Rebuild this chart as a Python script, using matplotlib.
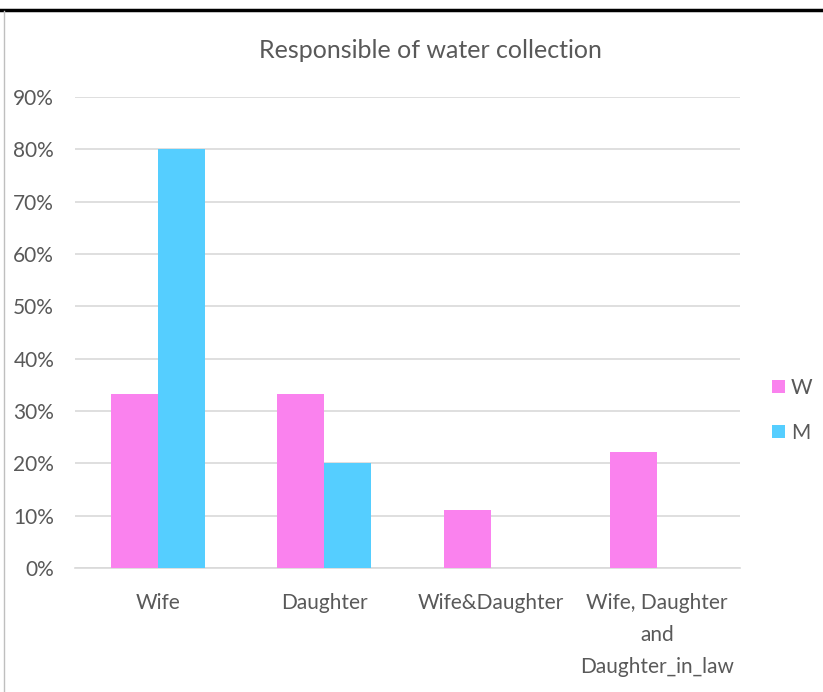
import matplotlib.pyplot as plt
import matplotlib.lines as mlines
import numpy as np

# Data
categories = ['Wife', 'Daughter', 'Wife&Daughter', 'Wife, Daughter\nand\nDaughter_in_law']
w_values = [0.333, 0.333, 0.111, 0.222]
m_values = [0.80, 0.20, 0.0, 0.0]
y_ticks = [0.0, 0.1, 0.2, 0.3, 0.4, 0.5, 0.6, 0.7, 0.8, 0.9]

pink = '#FA82EE'
blue = '#55CEFF'
text_gray = '#595959'

plt.rcParams['font.family'] = ['Lato', 'DejaVu Sans']

fig = plt.figure(figsize=(8.23, 6.92), dpi=100)
ax = fig.add_axes([75 / 823, 1 - 568 / 692, 665 / 823, (568 - 97) / 692])

x = np.arange(len(categories))
width = 0.283
ax.bar(x - width / 2, w_values, width, color=pink, label='W', zorder=3)
ax.bar(x + width / 2, m_values, width, color=blue, label='M', zorder=3)

ax.set_xlim(-0.5, len(categories) - 0.5)
ax.set_ylim(0, 0.9)
ax.set_yticks(y_ticks)
ax.set_yticklabels([f'{int(round(t * 100))}%' for t in y_ticks])
ax.set_xticks(x)
ax.set_xticklabels(categories, linespacing=1.75)

ax.grid(axis='y', color='#D9D9D9', linewidth=1.2, zorder=0)
for side in ['top', 'right', 'left']:
    ax.spines[side].set_visible(False)
ax.spines['bottom'].set_color('#D9D9D9')
ax.spines['bottom'].set_linewidth(1.2)
ax.tick_params(axis='both', length=0, labelsize=15, colors=text_gray)
ax.tick_params(axis='x', pad=18)
ax.tick_params(axis='y', pad=15)

fig.text(430 / 823, 1 - 50 / 692, 'Responsible of water collection',
         ha='center', va='center', fontsize=18, color=text_gray)

leg = ax.legend(loc='center left', bbox_to_anchor=(1.02, 0.335), frameon=False,
                fontsize=15, handlelength=0.6, handleheight=0.6, handletextpad=0.3,
                labelspacing=1.2, labelcolor=text_gray)

# frame lines of the screenshot
fig.add_artist(mlines.Line2D([0, 1], [1 - 10 / 692, 1 - 10 / 692], color='black',
                             linewidth=2.5, transform=fig.transFigure))
fig.add_artist(mlines.Line2D([3.5 / 823, 3.5 / 823], [0, 1 - 11 / 692], color='#BFBFBF',
                             linewidth=1, transform=fig.transFigure))

fig.savefig('out.png', dpi=100)
